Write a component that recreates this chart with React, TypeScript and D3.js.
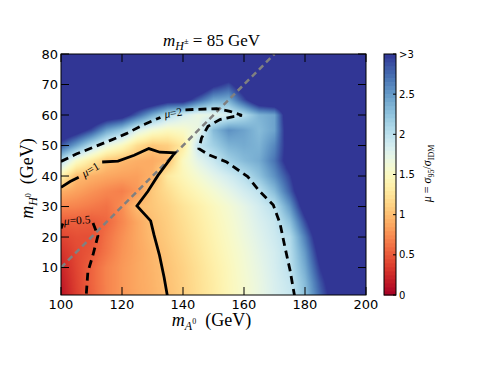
import React, { useEffect, useState } from 'react';
import * as d3 from 'd3';

// grid axes
const mAGrid = [100, 105, 110, 115, 120, 125, 130, 135, 140, 145, 150, 155, 160, 165, 170, 175, 180, 185, 190, 195, 200];
const mHGrid = [80, 75, 70, 65, 60, 55, 50, 45, 40, 35, 30, 25, 20, 15, 10, 5, 0];

// mu = sigma95 / sigmaIDM, rows from mH=80 (top) to mH=0 (bottom), columns mA=100..200
const muRows = [
  [3.5, 3.5, 3.5, 3.5, 3.5, 3.5, 3.5, 3.5, 3.5, 3.5, 3.5, 3.5, 3.5, 3.5, 3.5, 3.5, 3.5, 3.5, 3.5, 3.5, 3.5],
  [3.5, 3.5, 3.5, 3.5, 3.5, 3.5, 3.5, 3.5, 3.5, 3.5, 3.5, 3.5, 3.5, 3.5, 3.5, 3.5, 3.5, 3.5, 3.5, 3.5, 3.5],
  [3.5, 3.5, 3.5, 3.5, 3.5, 3.5, 3.5, 3.5, 3.5, 3.5, 3.1, 2.9, 3.3, 3.5, 3.5, 3.5, 3.5, 3.5, 3.5, 3.5, 3.5],
  [3.5, 3.5, 3.5, 3.5, 3.5, 3.5, 3.4, 3.2, 3.2, 2.8, 2.45, 2.4, 2.9, 3.4, 3.5, 3.5, 3.5, 3.5, 3.5, 3.5, 3.5],
  [3.5, 3.5, 3.5, 3.3, 3.2, 2.8, 2.4, 2.05, 1.85, 1.7, 1.75, 1.85, 2.05, 2.35, 2.45, 3.4, 3.5, 3.5, 3.5, 3.5, 3.5],
  [3.4, 3.2, 2.9, 2.45, 2.2, 1.8, 1.6, 1.5, 1.55, 1.7, 2.3, 2.55, 2.45, 2.3, 2.45, 3.3, 3.5, 3.5, 3.5, 3.5, 3.5],
  [2.85, 2.45, 2.03, 1.7, 1.5, 1.2, 1.05, 1.1, 1.3, 1.95, 2.15, 2.35, 2.4, 2.35, 2.6, 3.2, 3.5, 3.5, 3.5, 3.5, 3.5],
  [2.03, 1.55, 1.3, 1.05, 0.97, 0.92, 0.9, 0.98, 1.5, 1.75, 1.93, 2.15, 2.3, 2.4, 2.7, 3.2, 3.5, 3.5, 3.5, 3.5, 3.5],
  [1.4, 1.0, 0.93, 0.88, 0.85, 0.84, 0.93, 1.3, 1.45, 1.6, 1.75, 1.88, 2.03, 2.25, 2.55, 2.95, 3.5, 3.5, 3.5, 3.5, 3.5],
  [0.92, 0.85, 0.78, 0.72, 0.68, 0.8, 1.06, 1.2, 1.35, 1.47, 1.6, 1.73, 1.87, 1.99, 2.3, 2.8, 3.4, 3.5, 3.5, 3.5, 3.5],
  [0.72, 0.7, 0.66, 0.62, 0.75, 0.99, 1.05, 1.13, 1.25, 1.36, 1.48, 1.6, 1.73, 1.87, 2.02, 2.5, 3.2, 3.5, 3.5, 3.5, 3.5],
  [0.52, 0.53, 0.51, 0.57, 0.72, 0.88, 1.01, 1.1, 1.21, 1.32, 1.44, 1.56, 1.69, 1.82, 1.93, 2.25, 2.9, 3.5, 3.5, 3.5, 3.5],
  [0.4, 0.45, 0.45, 0.62, 0.76, 0.88, 0.99, 1.08, 1.18, 1.29, 1.41, 1.53, 1.66, 1.78, 1.9, 2.05, 2.65, 3.3, 3.5, 3.5, 3.5],
  [0.3, 0.42, 0.49, 0.64, 0.78, 0.87, 0.96, 1.05, 1.15, 1.26, 1.38, 1.5, 1.62, 1.75, 1.86, 2.02, 2.5, 3.15, 3.5, 3.5, 3.5],
  [0.22, 0.4, 0.55, 0.7, 0.8, 0.88, 0.95, 1.03, 1.12, 1.23, 1.35, 1.47, 1.6, 1.72, 1.85, 2.0, 2.4, 3.0, 3.4, 3.5, 3.5],
  [0.16, 0.38, 0.55, 0.7, 0.8, 0.88, 0.94, 1.02, 1.11, 1.22, 1.33, 1.46, 1.58, 1.7, 1.83, 1.95, 2.3, 2.85, 3.3, 3.5, 3.5],
  [0.12, 0.36, 0.53, 0.7, 0.8, 0.87, 0.93, 1.0, 1.1, 1.21, 1.32, 1.45, 1.57, 1.69, 1.82, 1.92, 2.25, 2.75, 3.2, 3.5, 3.5],
];

// contour lines [mA, mH], split where labels interrupt them
const contourMu2 = [
  [[100, 44.8], [105, 47.2], [110.5, 49.4], [116, 51.6], [121.4, 53.9], [127, 56.8], [132.6, 59.2]],
  [[140.8, 61.7], [143.3, 61.8], [151, 62.1], [155.4, 61.2], [159.3, 59.9], [156.5, 59.5], [152.1, 58.5],
   [148.2, 56.3], [146.1, 52.5], [145.2, 49], [148.3, 47], [154.3, 44.6], [161.2, 39.8], [165.2, 34.9], [169.6, 30.5],
   [171.8, 24.5], [173.4, 16.8], [175.1, 9.1], [176.7, 0]],
];
const contourMu1 = [
  [[100, 36.3], [103, 38.2], [105.8, 39.6]],
  [[113.5, 44.6], [118.7, 44.9], [124, 46.8], [128.8, 49], [132.4, 47.8], [137.3, 47.6], [131.8, 40.2],
   [128.5, 35], [124.9, 30.2], [129.4, 25.3], [130.5, 20.7], [132.3, 14], [133.8, 6.8], [135, 0]],
];
const contourMu05 = [
  [[100, 22.8], [100.6, 24.4]],
  [[110.5, 24.6], [112.1, 20.4], [110.5, 14.2], [108.8, 8.5], [108.2, 0]],
];
const diagonal = [[100, 10], [170, 80]];

const xTicks = [100, 120, 140, 160, 180, 200];
const yTicks = [10, 20, 30, 40, 50, 60, 70, 80];
const cbTicks = [0, 0.5, 1, 1.5, 2, 2.5, 3];
const cbTickLabels = ['0', '0.5', '1', '1.5', '2', '2.5', '>3'];

const left = 61, right = 366, top = 54, bottom = 295;
const cbLeft = 384, cbRight = 396;

const x = d3.scaleLinear().domain([100, 200]).range([left, right]);
const y = d3.scaleLinear().domain([1, 80]).range([bottom, top]);
const cbY = d3.scaleLinear().domain([0, 3]).range([bottom, top]);
const colorOf = (mu: number) => d3.interpolateRdYlBu(Math.max(0, Math.min(1, mu / 3)));

function sample(mA: number, mH: number) {
  const gx = (mA - mAGrid[0]) / (mAGrid[1] - mAGrid[0]);
  const gy = (mHGrid[0] - mH) / (mHGrid[0] - mHGrid[1]);
  const i0 = Math.max(0, Math.min(mAGrid.length - 2, Math.floor(gx)));
  const j0 = Math.max(0, Math.min(mHGrid.length - 2, Math.floor(gy)));
  const tx = Math.max(0, Math.min(1, gx - i0));
  const ty = Math.max(0, Math.min(1, gy - j0));
  const a = muRows[j0][i0], b = muRows[j0][i0 + 1];
  const c = muRows[j0 + 1][i0], d = muRows[j0 + 1][i0 + 1];
  return (a * (1 - tx) + b * tx) * (1 - ty) + (c * (1 - tx) + d * tx) * ty;
}

const line = d3.line<number[]>().x((d) => x(d[0])).y((d) => y(d[1]));

export default function App() {
  const [href, setHref] = useState('');
  useEffect(() => {
    const w = right - left, h = bottom - top;
    const canvas = document.createElement('canvas');
    canvas.width = w;
    canvas.height = h;
    const ctx = canvas.getContext('2d')!;
    const img = ctx.createImageData(w, h);
    const lut = d3.range(601).map((i) => d3.rgb(colorOf((i / 600) * 3)));
    for (let j = 0; j < h; j++) {
      const mH = y.invert(top + j + 0.5);
      for (let i = 0; i < w; i++) {
        const mA = x.invert(left + i + 0.5);
        const mu = Math.max(0, Math.min(3, sample(mA, mH)));
        const c = lut[Math.round((mu / 3) * 600)];
        const k = (j * w + i) * 4;
        img.data[k] = c.r;
        img.data[k + 1] = c.g;
        img.data[k + 2] = c.b;
        img.data[k + 3] = 255;
      }
    }
    ctx.putImageData(img, 0, 0);
    setHref(canvas.toDataURL());
  }, []);

  const cbBands = d3.range(0, 3, 3 / 60);
  const serif = 'Liberation Serif, DejaVu Serif, serif';
  const sans = 'DejaVu Sans, sans-serif';

  return (
    <svg width={491} height={368} style={{ position: 'absolute', left: 0, top: 0 }}>
      <rect x={0} y={0} width={491} height={368} fill="#fff" />
      <defs>
        <clipPath id="plotClip">
          <rect x={left} y={top} width={right - left} height={bottom - top} />
        </clipPath>
      </defs>
      {href && <image href={href} x={left} y={top} width={right - left} height={bottom - top} />}
      <g clipPath="url(#plotClip)" fill="none">
        <path d={line(diagonal as number[][]) || ''} stroke="#808080" strokeWidth={2.5} strokeDasharray="6,4" />
        {contourMu2.map((seg, i) => (
          <path key={'m2' + i} d={line(seg) || ''} stroke="#000" strokeWidth={2.8} strokeDasharray="8,5" />
        ))}
        {contourMu1.map((seg, i) => (
          <path key={'m1' + i} d={line(seg) || ''} stroke="#000" strokeWidth={2.8} strokeLinejoin="miter" />
        ))}
        {contourMu05.map((seg, i) => (
          <path key={'m05' + i} d={line(seg) || ''} stroke="#000" strokeWidth={2.8} strokeDasharray="8,5" />
        ))}
      </g>
      {/* contour labels */}
      <g fontFamily={serif} fontSize={11.5} fill="#000">
        <text transform={`translate(${x(136.8)},${y(60.6)}) rotate(-9)`} textAnchor="middle" dy={3.5}>
          <tspan fontStyle="italic">μ</tspan>=2
        </text>
        <text transform={`translate(${x(109.7)},${y(42)}) rotate(-30)`} textAnchor="middle" dy={3.5}>
          <tspan fontStyle="italic">μ</tspan>=1
        </text>
        <text transform={`translate(${x(105.3)},${y(25.4)}) rotate(-4)`} textAnchor="middle" dy={3.5}>
          <tspan fontStyle="italic">μ</tspan>=0.5
        </text>
      </g>
      {/* frame and ticks */}
      <rect x={left} y={top} width={right - left} height={bottom - top} fill="none" stroke="#000" strokeWidth={1} />
      <g stroke="#000" strokeWidth={1}>
        {xTicks.map((t) => (
          <g key={'xt' + t}>
            <line x1={x(t)} x2={x(t)} y1={bottom} y2={bottom - 8} />
            <line x1={x(t)} x2={x(t)} y1={top} y2={top + 8} />
          </g>
        ))}
        {yTicks.map((t) => (
          <g key={'yt' + t}>
            <line x1={left} x2={left + 8} y1={y(t)} y2={y(t)} />
            <line x1={right} x2={right - 8} y1={y(t)} y2={y(t)} />
          </g>
        ))}
      </g>
      <g fontFamily={sans} fontSize={13} fill="#000">
        {xTicks.map((t) => (
          <text key={'xl' + t} x={x(t)} y={bottom + 13.5} textAnchor="middle">{t}</text>
        ))}
        {yTicks.map((t) => (
          <text key={'yl' + t} x={left - 3} y={y(t) + 4.7} textAnchor="end">{t}</text>
        ))}
      </g>
      {/* title */}
      <text x={(left + right) / 2 - 2} y={46} textAnchor="middle" fontFamily={serif} fontSize={17}>
        <tspan fontStyle="italic">m</tspan>
        <tspan fontStyle="italic" fontSize={12} dy={4}>H</tspan>
        <tspan fontSize={8.5} dy={-6}>±</tspan>
        <tspan fontSize={17} dy={2}>{'\u00a0= 85 GeV'}</tspan>
      </text>
      {/* axis labels */}
      <text x={(left + right) / 2 - 2} y={326} textAnchor="middle" fontFamily={serif} fontSize={18}>
        <tspan fontStyle="italic">m</tspan>
        <tspan fontStyle="italic" fontSize={12} dy={4}>A</tspan>
        <tspan fontSize={8} dy={-6}>0</tspan>
        <tspan fontSize={18} dy={2}>{'\u00a0\u00a0(GeV)'}</tspan>
      </text>
      <text transform={`translate(33,${(top + bottom) / 2 + 4}) rotate(-90)`} textAnchor="middle" fontFamily={serif} fontSize={18}>
        <tspan fontStyle="italic">m</tspan>
        <tspan fontStyle="italic" fontSize={12} dy={4}>H</tspan>
        <tspan fontSize={8} dy={-6}>0</tspan>
        <tspan fontSize={18} dy={2}>{'\u00a0\u00a0(GeV)'}</tspan>
      </text>
      {/* colorbar */}
      <g>
        {cbBands.map((v) => (
          <rect key={'cb' + v} x={cbLeft} width={cbRight - cbLeft} y={cbY(v + 3 / 60)} height={cbY(v) - cbY(v + 3 / 60) + 0.5}
            fill={colorOf(v + 1.5 / 60)} />
        ))}
        <rect x={cbLeft} y={top} width={cbRight - cbLeft} height={bottom - top} fill="none" stroke="#000" strokeWidth={1} />
        {cbTicks.map((t) => (
          <line key={'cbt' + t} x1={cbRight - 3} x2={cbRight} y1={cbY(t)} y2={cbY(t)} stroke="#000" strokeWidth={1} />
        ))}
        <g fontFamily={sans} fontSize={10} fill="#000">
          {cbTicks.map((t, i) => (
            <text key={'cbl' + t} x={cbRight + 3} y={cbY(t) + 3.6}>{cbTickLabels[i]}</text>
          ))}
        </g>
        <text transform={`translate(431,${(top + bottom) / 2 - 1}) rotate(-90)`} textAnchor="middle" fontFamily={serif} fontSize={12}>
          <tspan fontStyle="italic">μ</tspan>
          <tspan> = </tspan>
          <tspan fontStyle="italic">σ</tspan>
          <tspan fontSize={8} dy={3}>95</tspan>
          <tspan dy={-3}>/</tspan>
          <tspan fontStyle="italic">σ</tspan>
          <tspan fontSize={8} dy={3}>IDM</tspan>
        </text>
      </g>
    </svg>
  );
}
